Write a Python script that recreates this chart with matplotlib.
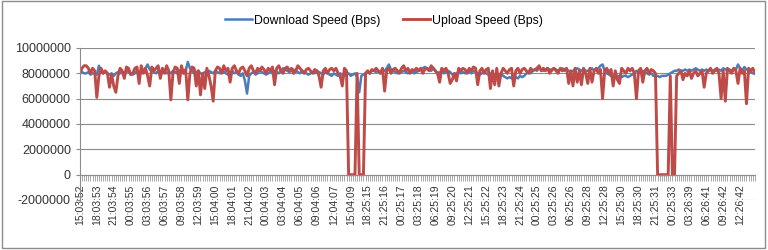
import numpy as np
import matplotlib.pyplot as plt
from matplotlib.patches import Rectangle
from matplotlib.ticker import FuncFormatter

plt.rcParams['font.family'] = ['Liberation Sans', 'DejaVu Sans']

# speeds in units of 100 000 Bps, one value per sample
download = [
    80, 81, 80, 80, 81, 79, 80, 80, 79, 86, 82, 80, 81, 80, 79, 80, 78, 80, 81, 80,
    81, 80, 82, 81, 80, 79, 80, 82, 81, 80, 82, 84, 87, 83, 82, 81, 80, 82, 81, 80,
    82, 80, 81, 80, 82, 81, 80, 82, 83, 80, 82, 89, 84, 82, 80, 81, 82, 80, 79, 81,
    80, 82, 81, 80, 82, 81, 80, 82, 81, 80, 79, 81, 82, 80, 81, 79, 78, 80, 74, 64,
    78, 80, 81, 79, 80, 82, 81, 80, 79, 80, 81, 80, 82, 81, 80, 82, 84, 83, 82, 81,
    82, 83, 82, 81, 80, 82, 81, 80, 79, 80, 81, 80, 82, 81, 80, 79, 81, 80, 79, 78,
    80, 79, 78, 80, 79, 78, 79, 80, 78, 79, 80, 77, 65, 78, 79, 80, 81, 80, 82, 82,
    81, 82, 80, 81, 82, 84, 87, 83, 82, 81, 80, 82, 81, 82, 81, 80, 82, 81, 80, 81,
    82, 83, 84, 85, 84, 83, 82, 84, 82, 80, 81, 82, 80, 81, 82, 81, 79, 78, 80, 81,
    80, 81, 80, 82, 81, 80, 82, 81, 80, 79, 80, 81, 80, 79, 80, 78, 79, 80, 79, 80,
    78, 77, 76, 77, 76, 78, 77, 76, 78, 77, 78, 80, 81, 80, 82, 83, 82, 84, 83, 82,
    83, 84, 83, 82, 84, 83, 82, 83, 84, 82, 83, 82, 81, 82, 83, 84, 83, 82, 83, 82,
    82, 83, 84, 82, 83, 84, 86, 87, 82, 80, 79, 78, 77, 78, 77, 78, 77, 78, 78, 77,
    78, 79, 80, 82, 81, 80, 82, 81, 80, 79, 80, 78, 78, 78, 77, 78, 78, 78, 79, 80,
    81, 82, 82, 83, 82, 82, 83, 82, 83, 82, 83, 84, 83, 82, 83, 82, 83, 82, 83, 82,
    83, 82, 83, 82, 84, 83, 82, 83, 82, 84, 83, 87, 84, 82, 85, 83, 82, 81, 80, 80,
]
upload = [
    80, 84, 86, 86, 84, 80, 84, 82, 61, 78, 84, 80, 82, 80, 69, 79, 70, 65, 78, 84,
    82, 76, 85, 84, 79, 80, 84, 85, 72, 86, 80, 84, 78, 70, 85, 82, 84, 86, 76, 84,
    80, 86, 82, 59, 80, 85, 84, 72, 86, 80, 83, 59, 80, 85, 84, 70, 82, 63, 80, 68,
    84, 78, 70, 58, 82, 85, 84, 80, 86, 82, 84, 73, 84, 86, 82, 80, 84, 85, 82, 78,
    84, 86, 82, 80, 84, 82, 85, 83, 80, 84, 82, 85, 71, 84, 86, 82, 80, 84, 85, 82,
    84, 80, 82, 86, 84, 82, 80, 83, 84, 82, 80, 83, 82, 78, 69, 82, 84, 80, 83, 84,
    82, 84, 80, 78, 70, 84, 82, 0, 0, 0, 0, 80, 0, 0, 0, 80, 82, 80, 83, 82,
    84, 82, 80, 84, 66, 82, 84, 80, 83, 84, 82, 80, 84, 86, 82, 84, 80, 83, 82, 84,
    82, 84, 80, 83, 84, 82, 86, 84, 82, 80, 73, 84, 82, 84, 80, 72, 75, 80, 74, 84,
    82, 84, 83, 80, 84, 82, 85, 84, 71, 82, 84, 80, 83, 84, 68, 82, 71, 84, 70, 80,
    84, 82, 80, 83, 84, 70, 82, 84, 80, 83, 84, 82, 80, 84, 82, 83, 84, 86, 82, 84,
    82, 84, 80, 83, 84, 82, 80, 84, 82, 83, 84, 72, 82, 70, 84, 73, 82, 71, 84, 80,
    72, 84, 73, 82, 84, 80, 83, 60, 82, 84, 80, 83, 70, 82, 75, 72, 84, 82, 80, 84,
    82, 84, 80, 60, 82, 84, 73, 82, 84, 80, 83, 82, 80, 0, 0, 0, 0, 0, 0, 78,
    0, 0, 78, 80, 82, 75, 80, 78, 82, 76, 80, 82, 78, 80, 82, 69, 80, 82, 84, 80,
    82, 84, 80, 60, 82, 58, 84, 82, 80, 84, 82, 72, 84, 80, 82, 56, 84, 82, 84, 80,
]
time_labels = [
    "15:03:52", "18:03:53", "21:03:54", "00:03:55", "03:03:56", "06:03:57",
    "09:03:58", "12:03:59", "15:04:00", "18:04:01", "21:04:02", "00:04:03",
    "03:04:04", "06:04:05", "09:04:06", "12:04:07", "15:04:09", "18:25:15",
    "21:25:16", "00:25:17", "03:25:18", "06:25:19", "09:25:20", "12:25:21",
    "15:25:22", "18:25:23", "21:25:24", "00:25:25", "03:25:26", "06:25:26",
    "09:25:28", "12:25:28", "15:25:30", "18:25:30", "21:25:31", "00:25:33",
    "03:26:39", "06:26:41", "09:26:42", "12:26:42",
]
LABEL_EVERY = 8

down = np.array(download) * 1e5
up = np.array(upload) * 1e5
x = np.arange(len(down))

fig = plt.figure(figsize=(7.68, 2.5), dpi=100)
ax = fig.add_axes([0.104, 0.2, 0.879, 0.608])

ax.plot(x, down, color="#4A7EBB", linewidth=1.8, label="Download Speed (Bps)")
ax.plot(x, up, color="#BE4B48", linewidth=2.1, label="Upload Speed (Bps)")

ax.set_xlim(0, len(x) - 1)
ax.set_ylim(-2000000, 10000000)
ax.set_yticks(np.arange(-2000000, 10000001, 2000000))
ax.yaxis.set_major_formatter(FuncFormatter(lambda v, p: f"{v:.0f}"))
ax.grid(axis="y", color="#8c8c8c", linewidth=0.8)
ax.set_axisbelow(True)

# category axis crosses at zero, like the spreadsheet chart
for side in ["top", "right"]:
    ax.spines[side].set_visible(False)
ax.spines["left"].set_color("#8c8c8c")
ax.spines["bottom"].set_position(("data", 0))
ax.spines["bottom"].set_color("#8c8c8c")

ax.set_xticks(x[::LABEL_EVERY])
ax.set_xticklabels(time_labels, rotation=90, fontsize=7.5, color="#333333",
                   family=["Liberation Sans Narrow", "Liberation Sans", "DejaVu Sans"])
ax.set_xticks(x, minor=True)
ax.tick_params(axis="x", which="both", length=4, width=0.6, color="#9a9a9a", pad=3)
ax.tick_params(axis="y", length=3, labelsize=9, colors="#8c8c8c", labelcolor="#333333")

fig.legend(loc="upper center", bbox_to_anchor=(0.5, 0.985), ncol=2, frameon=False,
           fontsize=8.8, handlelength=2.2, handletextpad=0.2, columnspacing=1.8)

fig.patches.append(Rectangle((0.002, 0.01), 0.994, 0.985, transform=fig.transFigure,
                             fill=False, edgecolor="#8c8c8c", linewidth=1))

fig.savefig("out.png", dpi=100)
